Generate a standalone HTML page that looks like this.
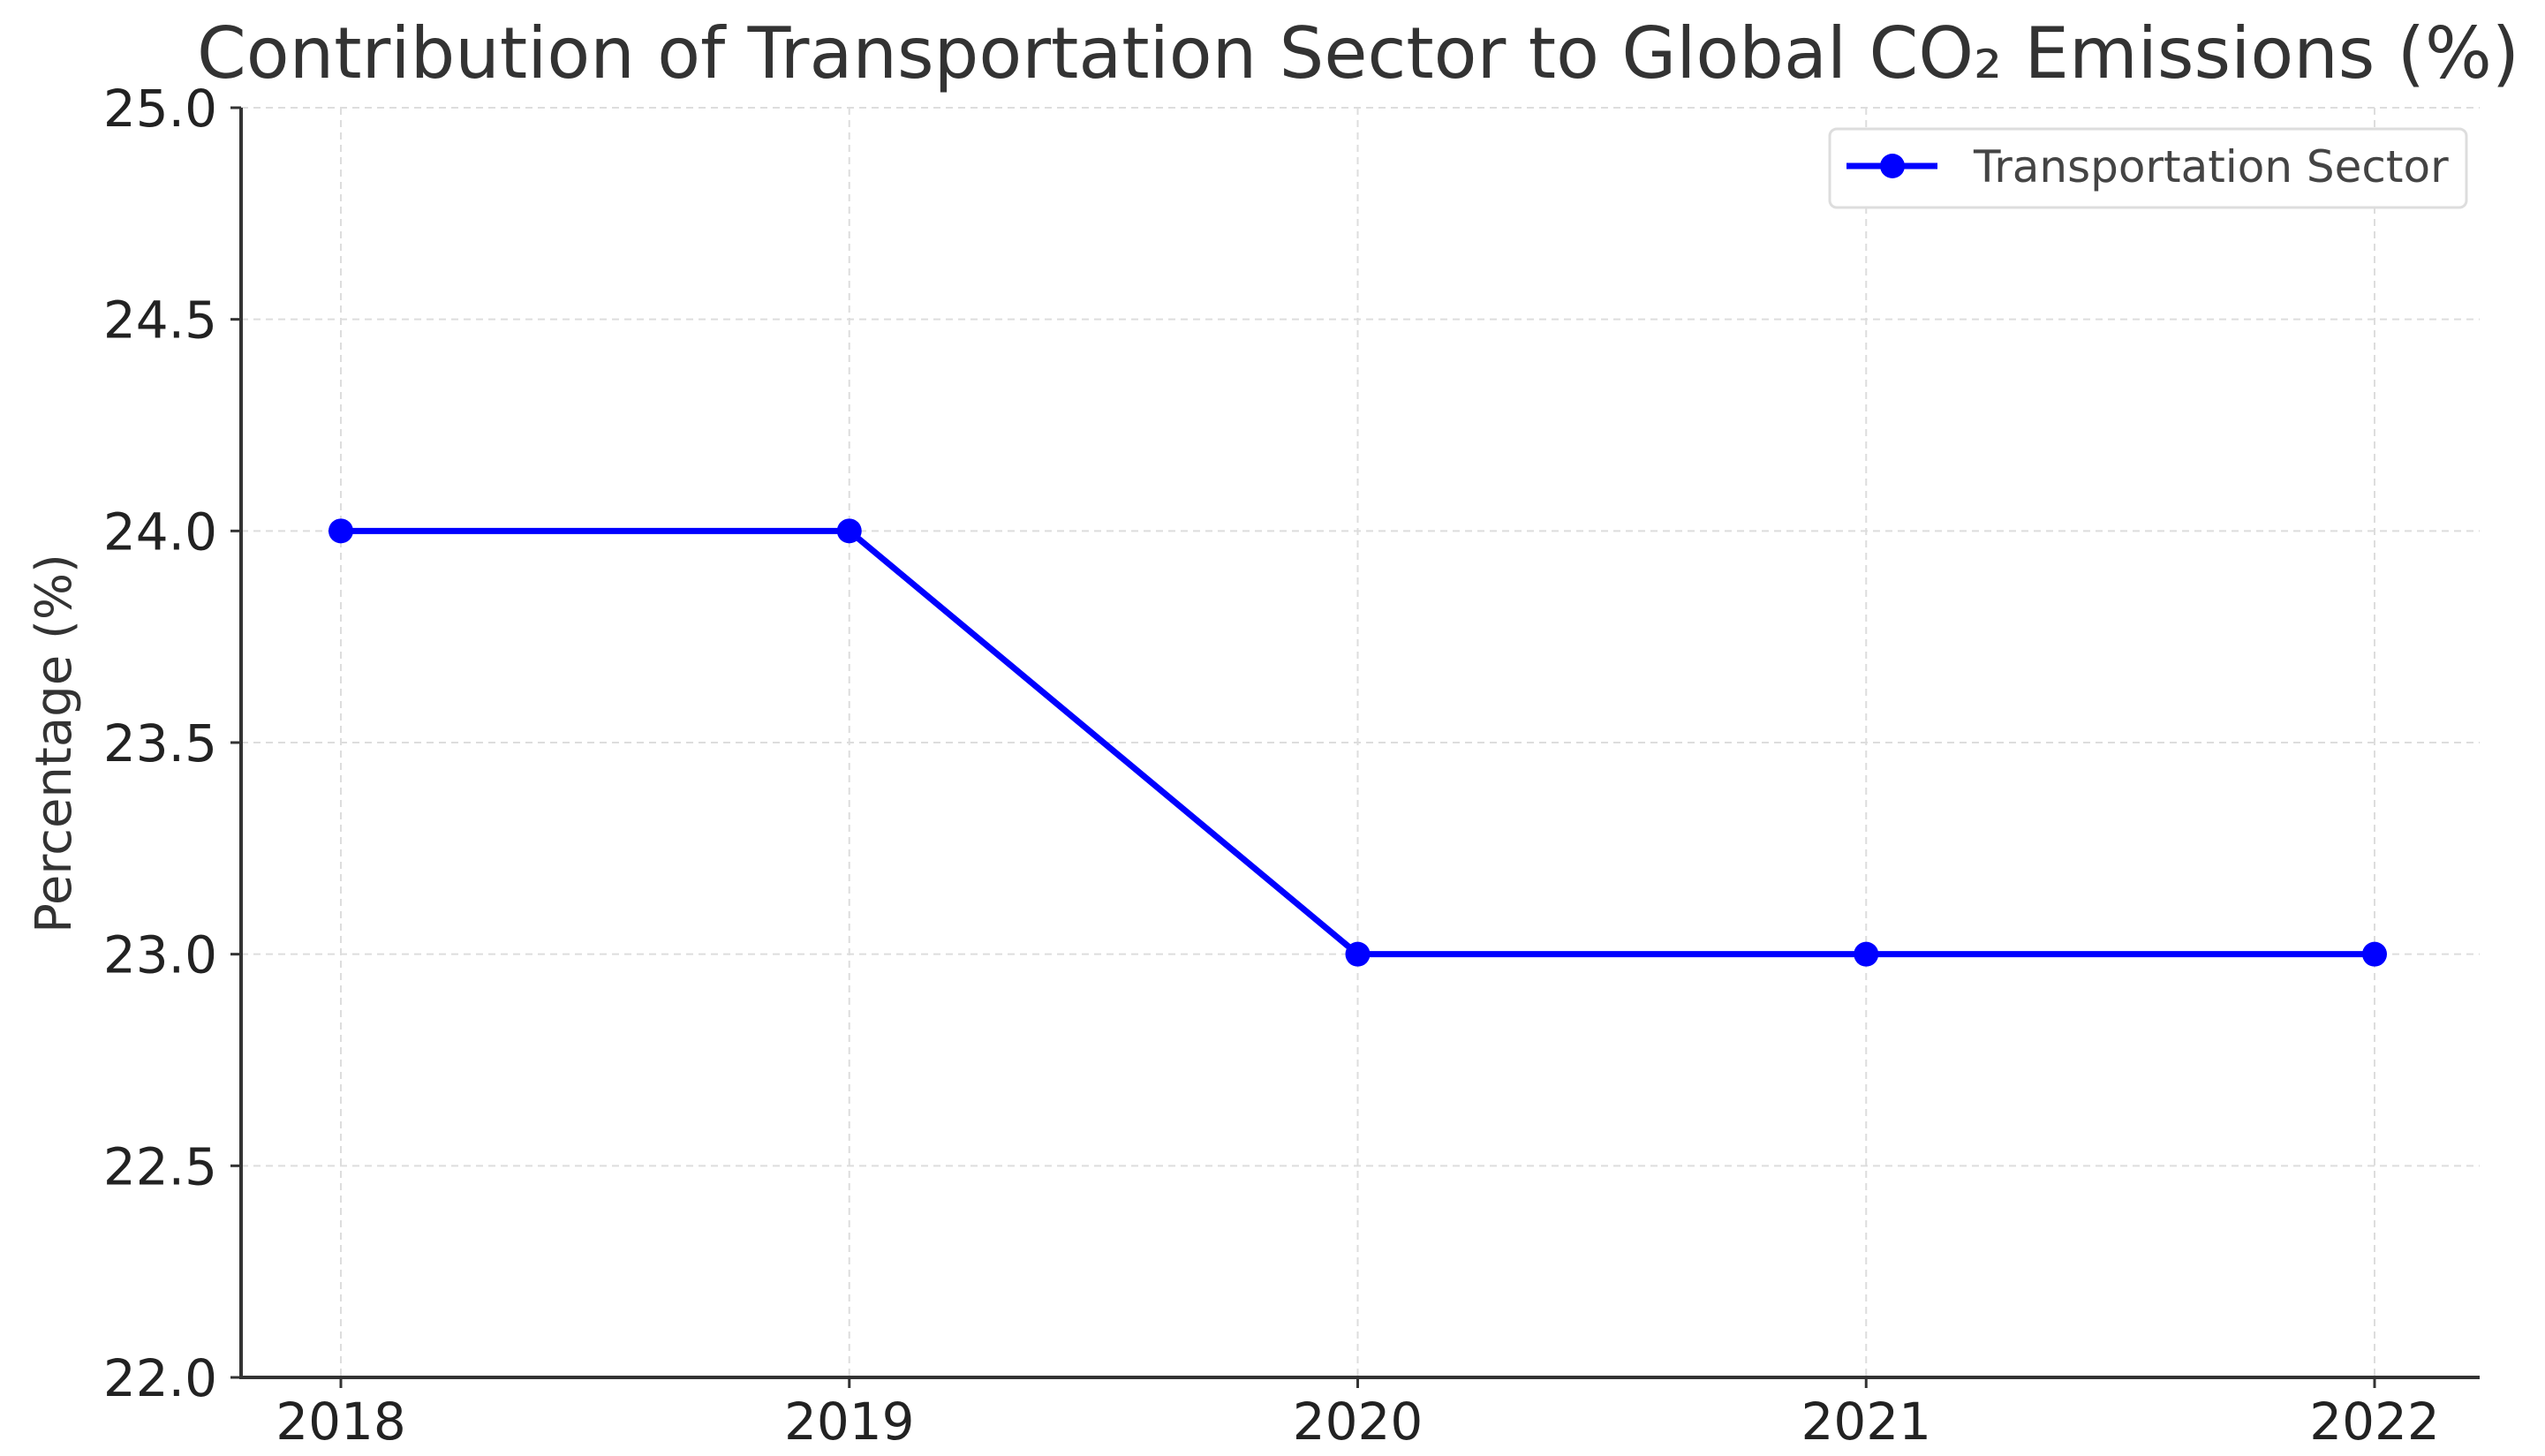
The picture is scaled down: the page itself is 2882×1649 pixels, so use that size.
<!DOCTYPE html>
<html><head><meta charset="utf-8"><style>html,body{margin:0;padding:0;background:#fff}svg{display:block}</style></head>
<body>
<svg id="chart" width="2882" height="1649" xmlns="http://www.w3.org/2000/svg" font-family="'DejaVu Sans','Liberation Sans',sans-serif">
<rect width="2882" height="1649" fill="#fff"/>
<text x="1538" y="88" font-size="80" text-anchor="middle" fill="#333" textLength="2630" lengthAdjust="spacingAndGlyphs">Contribution of Transportation Sector to Global CO₂ Emissions (%)</text>
<text transform="translate(80,842) rotate(-90)" font-size="56" text-anchor="middle" fill="#333">Percentage (%)</text>
<g id="grid"></g><g id="axes"></g><g id="series"></g>
<g>
<rect x="2072" y="146" width="721" height="89" rx="8" fill="#fff" stroke="#ddd" stroke-width="3"/>
<line x1="2091" y1="188" x2="2194" y2="188" stroke="#0000ff" stroke-width="7"/>
<circle cx="2143" cy="188" r="14" fill="#0000ff"/>
<text x="2235" y="206" font-size="50" fill="#444">Transportation Sector</text>
</g>
</svg>
<script>
const categories = ["2018","2019","2020","2021","2022"];
const values = [24.0, 24.0, 23.0, 23.0, 23.0];
const yTicks = [22.0, 22.5, 23.0, 23.5, 24.0, 24.5, 25.0];
const NS = "http://www.w3.org/2000/svg";
const L = 273, R = 2808, T = 122, B = 1560;
const x0 = 386, x1 = 2689;
function xs(i){ return x0 + i*(x1-x0)/(categories.length-1); }
function ys(v){ return B - (v-22)/(25-22)*(B-T); }
function mk(tag, attrs, parent){ const e=document.createElementNS(NS,tag); for(const k in attrs) e.setAttribute(k,attrs[k]); parent.appendChild(e); return e; }
const grid=document.getElementById('grid'), axes=document.getElementById('axes'), series=document.getElementById('series');
yTicks.forEach(v=>{
  const y=ys(v);
  const g=mk('line',{x1:L,x2:R,y1:y,y2:y,stroke:'#ddd','stroke-width':2,'stroke-dasharray':'8,6'},grid);
  
  
  mk('line',{x1:L-12,x2:L,y1:y,y2:y,stroke:'#333','stroke-width':3},axes);
  const t=mk('text',{x:L-27,y:y+21,'font-size':58,'text-anchor':'end',fill:'#222'},axes);
  t.textContent=v.toFixed(1);
  
  
});
categories.forEach((c,i)=>{
  const x=xs(i);
  const g=mk('line',{x1:x,x2:x,y1:T,y2:B,stroke:'#ddd','stroke-width':2,'stroke-dasharray':'8,6'},grid);
  
  
  mk('line',{x1:x,x2:x,y1:B,y2:B+12,stroke:'#333','stroke-width':3},axes);
  const t=mk('text',{x:x,y:1630,'font-size':58,'text-anchor':'middle',fill:'#222'},axes);
  t.textContent=c;
  
  
});
const ax=mk('path',{d:`M${L},${T} L${L},${B} L${R},${B}`,fill:'none',stroke:'#333','stroke-width':4},axes);


const pl=mk('polyline',{points:values.map((v,i)=>xs(i)+','+ys(v)).join(' '),fill:'none',stroke:'#0000ff','stroke-width':7},series);


values.forEach((v,i)=>{
  const c=mk('circle',{cx:xs(i),cy:ys(v),r:14,fill:'#0000ff'},series);
  
  
});
</script>
</body></html>
